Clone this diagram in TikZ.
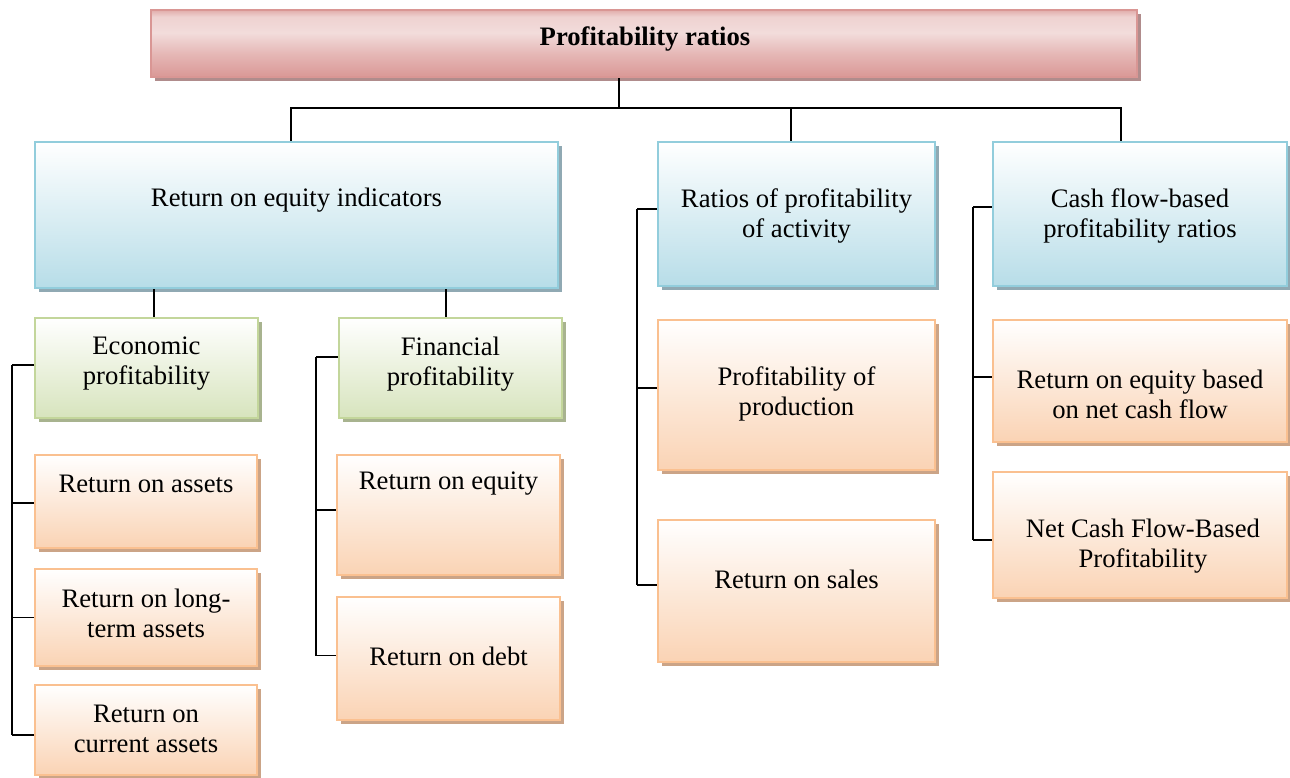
\documentclass[tikz,border=0pt]{standalone}
\usepackage{fontspec}
\setmainfont{Liberation Serif}
\usetikzlibrary{shadows,calc}
\definecolor{orB}{HTML}{FAC090}
\definecolor{orF}{HTML}{FAD3B4}
\definecolor{orS}{HTML}{CBA487}
\definecolor{grB}{HTML}{C3D69B}
\definecolor{grF}{HTML}{D7E4BD}
\definecolor{grS}{HTML}{A8B38F}
\definecolor{blB}{HTML}{92CDDC}
\definecolor{blF}{HTML}{B7DDE8}
\definecolor{blS}{HTML}{90A9B3}
\definecolor{pkB}{HTML}{D99694}
\definecolor{pkD}{HTML}{DA9896}
\definecolor{pkL}{HTML}{F2DCDB}
\definecolor{pkS}{HTML}{B08C8C}
\pgfdeclareverticalshading{pinkshade}{100bp}{color(0bp)=(pkD); color(25bp)=(pkD); color(42bp)=(pkD!55!pkL); color(58bp)=(pkL); color(70bp)=(pkL!85!pkD); color(75bp)=(pkD!70!pkL); color(100bp)=(pkD!70!pkL)}
\tikzset{
  boxbase/.style={draw, line width=1.6pt, inner sep=0pt},
  orbox/.style={boxbase, draw=orB, top color=white, bottom color=orF,
    drop shadow={shadow xshift=3pt, shadow yshift=-3pt, fill=orS, opacity=1}},
  grbox/.style={boxbase, draw=grB, top color=white, bottom color=grF,
    drop shadow={shadow xshift=3pt, shadow yshift=-3pt, fill=grS, opacity=1}},
  blbox/.style={boxbase, draw=blB, top color=white, bottom color=blF,
    drop shadow={shadow xshift=3pt, shadow yshift=-3pt, fill=blS, opacity=1}},
  pkbox/.style={boxbase, draw=pkB, shading=pinkshade,
    drop shadow={shadow xshift=3pt, shadow yshift=-3pt, fill=pkS, opacity=1}},
  txt/.style={font=\fontsize{20}{22.5}\selectfont, align=center, inner sep=0pt},
  conn/.style={line width=1.1pt, black}
}
% name, style, x1, y1, x2, y2
\newcommand\pbx[6]{\node[#2, minimum width={(#5-#3)*0.75pt}, minimum height={(#6-#4)*0.75pt}] (#1) at ({(#3+#5)/2},{(#4+#6)/2}) {};}
\newcommand\brc[3]{\path ($(#2.west)+(0,#3)$) coordinate (#2-c); \draw[conn] (#2-c) -- (#2-c -| #1);}
\begin{document}
\begin{tikzpicture}[x=0.75pt,y=-0.75pt]
\useasboundingbox (0,0) rectangle (1290,778);
% boxes
\pbx{top}{pkbox}{151}{10}{1137}{77}
\pbx{roe}{blbox}{35}{142}{558}{288}
\pbx{rpa}{blbox}{658}{142}{935}{286}
\pbx{cfb}{blbox}{993}{142}{1287}{286}
\pbx{econ}{grbox}{35}{318}{258}{418}
\pbx{fin}{grbox}{339}{318}{562}{418}
\pbx{roa}{orbox}{35}{455}{257}{548}
\pbx{rlt}{orbox}{35}{569}{257}{666}
\pbx{rca}{orbox}{35}{685}{257}{775}
\pbx{req}{orbox}{337}{455}{560}{575}
\pbx{rod}{orbox}{337}{597}{560}{720}
\pbx{pop}{orbox}{658}{320}{935}{470}
\pbx{ros}{orbox}{658}{520}{935}{662}
\pbx{rcf}{orbox}{993}{320}{1287}{442}
\pbx{ncf}{orbox}{993}{472}{1287}{598}
% texts
\node[txt] (t-top) at (645,39) {\bfseries Profitability ratios};
\node[txt] (t-roe) at (296.5,200) {Return on equity indicators};
\node[txt] (t-rpa) at (796.5,216) {Ratios of profitability\\of activity};
\node[txt] (t-cfb) at (1140,216) {Cash flow-based\\profitability ratios};
\node[txt] (t-econ) at (146.5,364) {Economic\\profitability};
\node[txt] (t-fin) at (450.5,364) {Financial\\profitability};
\node[txt] (t-roa) at (146,484) {Return on assets};
\node[txt] (t-rlt) at (146,613) {Return on long-\\term assets};
\node[txt] (t-rca) at (146,729) {Return on\\current assets};
\node[txt] (t-req) at (448.5,484) {Return on equity};
\node[txt] (t-rod) at (448.5,656) {Return on debt};
\node[txt] (t-pop) at (796.5,394) {Profitability of\\production};
\node[txt] (t-ros) at (796.5,579) {Return on sales};
\node[txt] (t-rcf) at (1140,394) {Return on equity based\\on net cash flow};
\node[txt] (t-ncf) at (1143,546) {Net Cash Flow-Based\\Profitability};
% top level connectors
\coordinate (bus) at (619,108);
\path ($(top.south)+(-25,0)$) coordinate (topc);
\draw[conn] (topc) -- (topc |- bus);
\path ($(roe.north)+(-5.5,0)$) coordinate (roec);
\path ($(rpa.north)+(-5.5,0)$) coordinate (rpac);
\path ($(cfb.north)+(-19,0)$) coordinate (cfbc);
\draw[conn] (roec) -- (roec |- bus) -- (cfbc |- bus) -- (cfbc);
\draw[conn] (rpac) -- (rpac |- bus);
\path ($(econ.north)+(7.5,0)$) coordinate (econc);
\path ($(fin.north)+(-4.5,0)$) coordinate (finc);
\draw[conn] (econc) -- (econc |- roe.south);
\draw[conn] (finc) -- (finc |- roe.south);
% trunks
\coordinate (tE) at (12,0);
\coordinate (tF) at (316,0);
\coordinate (tR) at (637,0);
\coordinate (tC) at (973,0);
\brc{tE}{econ}{-3}
\brc{tE}{roa}{1.5}
\brc{tE}{rlt}{0}
\brc{tE}{rca}{5}
\draw[conn] (econ-c -| tE) -- (rca-c -| tE);
\brc{tF}{fin}{-11}
\brc{tF}{req}{-5}
\brc{tF}{rod}{-3}
\draw[conn] (fin-c -| tF) -- (rod-c -| tF);
\brc{tR}{rpa}{-5}
\brc{tR}{pop}{-7}
\brc{tR}{ros}{-6}
\draw[conn] (rpa-c -| tR) -- (ros-c -| tR);
\brc{tC}{cfb}{-7}
\brc{tC}{rcf}{-4}
\brc{tC}{ncf}{5}
\draw[conn] (cfb-c -| tC) -- (ncf-c -| tC);
\end{tikzpicture}
\end{document}
